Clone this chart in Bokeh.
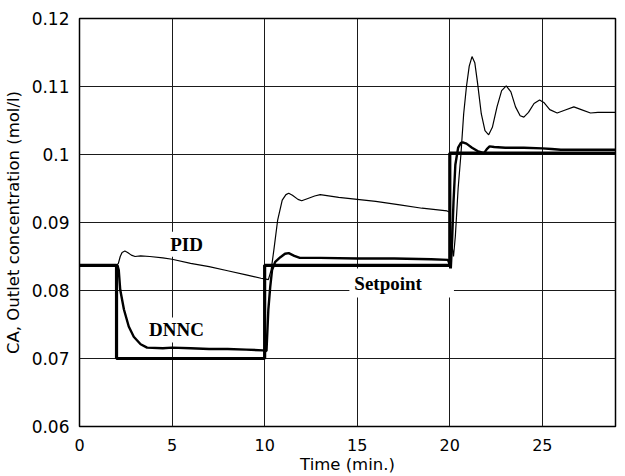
from bokeh.plotting import figure
from bokeh.models import Range1d, FixedTicker, Label
from bokeh.embed import file_html
from bokeh.resources import INLINE

# ---------------- data ----------------
sp_t = [0.0, 2.0, 2.0, 10.0, 10.0, 20.0, 20.0, 28.95]
sp_v = [0.0837, 0.0837, 0.0700, 0.0700, 0.0837, 0.0837, 0.1002, 0.1002]

dnnc_t = [0.0, 2.05, 2.12, 2.2, 2.4, 2.66, 2.93, 3.3, 3.65, 4.5, 5.0, 6.0, 7.0, 8.0, 9.0, 9.9,
          10.1, 10.2, 10.3, 10.4, 10.57, 10.85, 11.1, 11.3, 11.6, 11.9, 13.0, 15.0, 17.0, 19.0, 19.9,
          20.0, 20.05, 20.12, 20.2, 20.3, 20.45, 20.6, 20.7, 20.9, 21.2, 21.5, 21.85, 22.0, 22.15,
          22.4, 23.0, 24.0, 25.0, 25.5, 26.0, 28.95]
dnnc_v = [0.0837, 0.0837, 0.0830, 0.0801, 0.0772, 0.0747, 0.0732, 0.0721, 0.0716, 0.0715, 0.0716,
          0.0715, 0.0714, 0.0714, 0.0713, 0.0712,
          0.0711, 0.0772, 0.0805, 0.0830, 0.0842, 0.0849, 0.0854, 0.0855, 0.0851, 0.0848, 0.0848,
          0.0847, 0.0847, 0.0846, 0.0845,
          0.0838, 0.0830, 0.0870, 0.0930, 0.0985, 0.1010, 0.1017, 0.1018, 0.1016, 0.1010, 0.1005,
          0.1002, 0.1008, 0.1012,
          0.1011, 0.1010, 0.1010, 0.1009, 0.1008, 0.1007, 0.1007]

pid_t = [0.0, 2.0, 2.1, 2.2, 2.3, 2.45, 2.6, 2.8, 3.0, 3.3, 3.8, 4.5, 5.0, 6.0, 7.0, 8.0, 9.0,
         9.8, 10.0, 10.2, 10.35, 10.5, 10.7, 10.95, 11.15, 11.3, 11.5, 11.8, 12.0, 12.3, 12.7,
         13.0, 14.0, 15.0, 16.0, 17.3, 18.5, 19.85, 20.0, 20.1, 20.2, 20.3, 20.45, 20.6, 20.75,
         20.9, 21.05, 21.2, 21.35, 21.5, 21.7, 21.9, 22.1, 22.3, 22.55, 22.8, 23.05, 23.3, 23.55,
         23.8, 24.0, 24.25, 24.55, 24.85, 25.1, 25.4, 25.8, 26.2, 26.7, 27.1, 27.6, 28.0, 28.95]
pid_v = [0.0837, 0.0837, 0.0840, 0.0850, 0.0856, 0.0858, 0.0856, 0.0852, 0.0850, 0.0851, 0.0850,
         0.0848, 0.0846, 0.0840, 0.0835, 0.0829, 0.0823,
         0.0818, 0.0817, 0.0816, 0.0830, 0.0860, 0.0903, 0.0933, 0.0941, 0.0943, 0.0940, 0.0934,
         0.0932, 0.0935, 0.0939,
         0.0941, 0.0937, 0.0934, 0.0931, 0.0926, 0.0921, 0.0917, 0.0915, 0.0870, 0.0850, 0.0880,
         0.0950, 0.1000, 0.1060,
         0.1100, 0.1130, 0.1144, 0.1135, 0.1105, 0.1060, 0.1035, 0.1029, 0.1040, 0.1070, 0.1094,
         0.1101, 0.1092, 0.1070,
         0.1057, 0.1055, 0.1062, 0.1075, 0.1080, 0.1076, 0.1066, 0.1061, 0.1065, 0.1070, 0.1066,
         0.1061, 0.1062, 0.1062]

x_ticks = [0, 5, 10, 15, 20, 25]
x_tick_labels = ["0", "5", "10", "15", "20", "25"]
y_ticks = [0.06, 0.07, 0.08, 0.09, 0.10, 0.11, 0.12]
y_tick_labels = ["0.06", "0.07", "0.08", "0.09", "0.1", "0.11", "0.12"]

series_names = ["PID", "DNNC", "Setpoint"]
name_t = [5.78, 5.24, 17.4]
name_v = [0.0868, 0.0742, 0.0811]

# ---------------- figure ----------------
p = figure(width=620, height=476, output_backend="svg", toolbar_location=None,
           x_range=Range1d(0, 28.95), y_range=Range1d(0.06, 0.12),
           min_border_left=79, min_border_right=5, min_border_top=18, min_border_bottom=50)

p.outline_line_color = "black"
p.outline_line_width = 1.5
p.background_fill_color = "white"
p.border_fill_color = "white"

p.xaxis.axis_label = "Time (min.)"
p.yaxis.axis_label = "CA, Outlet concentration (mol/l)"
p.xaxis.ticker = FixedTicker(ticks=x_ticks)
p.yaxis.ticker = FixedTicker(ticks=y_ticks)
p.xaxis.major_label_overrides = dict(zip(x_ticks, x_tick_labels))
p.yaxis.major_label_overrides = dict(zip(y_ticks, y_tick_labels))

for ax in (p.xaxis, p.yaxis):
    ax.axis_line_color = None
    ax.major_tick_line_color = None
    ax.minor_tick_line_color = None
    ax.major_label_text_font = "DejaVu Sans"
    ax.major_label_text_color = "black"
    ax.axis_label_text_font = "DejaVu Sans"
    ax.axis_label_text_font_size = "16.5px"
    ax.axis_label_text_font_style = "normal"
    ax.axis_label_text_color = "black"

p.xaxis.major_label_text_font_size = "16px"
p.yaxis.major_label_text_font_size = "17px"
p.xaxis.major_label_standoff = 6
p.xaxis.axis_label_standoff = 1
p.yaxis.major_label_standoff = 4
p.yaxis.axis_label_standoff = 6

p.xgrid.ticker = FixedTicker(ticks=x_ticks)
p.ygrid.ticker = FixedTicker(ticks=y_ticks)
for g in (p.xgrid, p.ygrid):
    g.grid_line_color = "#1a1a1a"
    g.grid_line_width = 1

p.line(pid_t, pid_v, line_color="black", line_width=1.2)
p.line(dnnc_t, dnnc_v, line_color="black", line_width=2.4)
p.line(sp_t, sp_v, line_color="black", line_width=3.2)

pads = [dict(left=2, right=2, top=2, bottom=2),
        dict(left=2, right=2, top=2, bottom=2),
        dict(left=5, right=32, top=4, bottom=4)]
for name, t, v, pad in zip(series_names, name_t, name_v, pads):
    p.add_layout(Label(x=t, y=v, text=name, text_align="center", text_baseline="middle",
                       text_font="Liberation Serif", text_font_style="bold",
                       text_font_size="19px", text_color="black",
                       background_fill_color="white", padding=pad))

open("out.html", "w").write(file_html(p, INLINE))
